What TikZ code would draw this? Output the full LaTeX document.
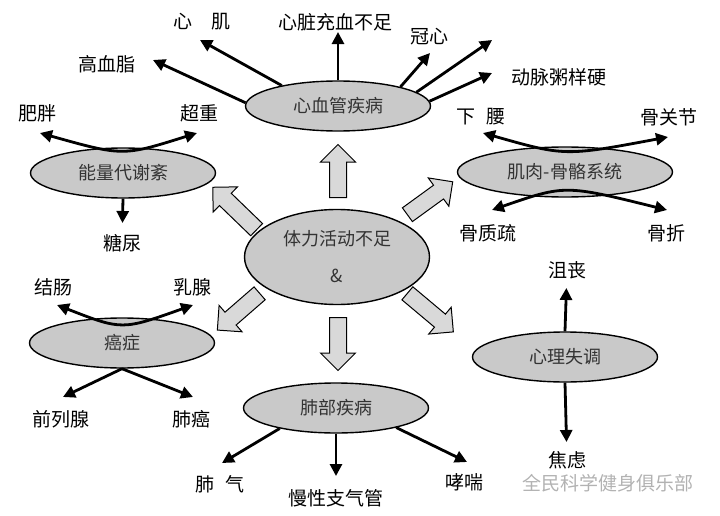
\documentclass[tikz,border=0pt]{standalone}
\usepackage{fontspec}
\setmainfont{Noto Sans CJK SC}
\usetikzlibrary{arrows.meta, positioning, shapes.geometric, shapes.arrows}

\begin{document}
\begin{tikzpicture}[x=1pt, y=-1pt,
    bubble/.style={ellipse, draw=black, line width=1.4pt, fill=gray!42, minimum width=185pt, minimum height=50pt, inner sep=0pt, text=black!80, font=\fontsize{18}{22}\selectfont},
    lbl/.style={font=\fontsize{19}{22}\selectfont, inner sep=1pt},
    lnk/.style={line width=2.8pt, -{Triangle[length=12pt, width=12pt]}},
    twoway/.style={line width=2.8pt, {Triangle[length=12pt, width=12pt]}-{Triangle[length=12pt, width=12pt]}},
    blockarr/.style={single arrow, draw=black, line width=1pt, fill=gray!30, inner xsep=0pt, inner ysep=8pt, single arrow head extend=9pt, single arrow tip angle=90, anchor=tail}]
    \useasboundingbox (0,0) rectangle (720,516);

    % Centre
    \node[bubble, minimum height=95pt, align=center, font=\fontsize{18}{37}\selectfont] (tl) at (337,257) {体力活动不足\\\&};

    % Diseases
    \node[bubble] (cv) at (338,106) {心血管疾病};
    \node[bubble] (ny) at (123,173) {能量代谢紊};
    \node[bubble, minimum width=215pt] (jr) at (565,172) {肌肉-骨骼系统};
    \node[bubble] (az) at (122,343) {癌症};
    \node[bubble] (fb) at (336,408) {肺部疾病};
    \node[bubble] (xl) at (565,357) {心理失调};

    % Block arrows from the centre
    \node[blockarr, minimum height=53pt, rotate=90] (bU) at (338,198) {};
    \node[blockarr, minimum height=61pt, rotate=136] (bUL) at (257,230) {};
    \node[blockarr, minimum height=56pt, rotate=36] (bUR) at (407,215) {};
    \node[blockarr, minimum height=56pt, rotate=221] (bDL) at (260,293) {};
    \node[blockarr, minimum height=53pt, rotate=-90] (bD) at (338,317) {};
    \node[blockarr, minimum height=60pt, rotate=-40] (bDR) at (407,293) {};

    % Labels
    \node[lbl] (xj) at (202,22) {心\hspace{1em}肌};
    \node[lbl] (gxz) at (107,64) {高血脂};
    \node[lbl] (xz) at (335,22) {心脏充血不足};
    \node[lbl] (gx) at (429,37) {冠心};
    \node[lbl] (dm) at (559,77) {动脉粥样硬};
    \node[lbl] (fp) at (38,113) {肥胖};
    \node[lbl] (cz) at (199,113) {超重};
    \node[lbl] (tn) at (122,243) {糖尿};
    \node[lbl] (xy) at (481,117) {下\hspace{0.6em}腰};
    \node[lbl] (gj) at (669,117) {骨关节};
    \node[lbl] (gz) at (488,233) {骨质疏};
    \node[lbl] (gzh) at (666,233) {骨折};
    \node[lbl] (jc) at (53,287) {结肠};
    \node[lbl] (rx) at (192,287) {乳腺};
    \node[lbl] (ql) at (61,419) {前列腺};
    \node[lbl] (fa) at (191,419) {肺癌};
    \node[lbl] (fq) at (220,484) {肺\hspace{0.6em}气};
    \node[lbl] (mx) at (336,498) {慢性支气管};
    \node[lbl] (xc) at (464,482) {哮喘};
    \node[lbl] (js) at (567,270) {沮丧};
    \node[lbl] (jl) at (567,460) {焦虑};
    \node[lbl, text=gray!60] (wm) at (608,483) {全民科学健身俱乐部};

    % Free ends
    \coordinate (xjTip) at (200,40);
    \coordinate (gxzTip) at (153,60);
    \coordinate (gxTip) at (430,53);
    \coordinate (xTip) at (492,40);
    \coordinate (dmTip) at (492,73);
    \coordinate (fpTip) at (40,133);
    \coordinate (czTip) at (197,133);
    \coordinate (xyTip) at (483,133);
    \coordinate (gjTip) at (668,137);
    \coordinate (gzTip) at (492,210);
    \coordinate (gzhTip) at (667,210);
    \coordinate (jcTip) at (57,305);
    \coordinate (rxTip) at (193,305);
    \coordinate (qlTip) at (63,397);
    \coordinate (faTip) at (193,397);
    \coordinate (fqTip) at (222,463);
    \coordinate (xcTip) at (467,462);

    % Heart
    \draw[lnk] (cv.160) -- (xjTip);
    \draw[lnk] (cv.178) -- (gxzTip);
    \draw[lnk] (cv.north) -- (cv.north |- xz.south);
    \draw[lnk] (cv.17) -- (gxTip);
    \draw[lnk] (cv.10) -- (xTip);
    \draw[lnk] (cv.3) -- (dmTip);

    % Energy
    \draw[twoway] (fpTip) .. controls ([yshift=-9pt]ny.north) .. (czTip);
    \draw[lnk, shorten >=10pt] (ny.south) -- (tn);

    % Muscle and bone
    \draw[twoway] (xyTip) .. controls ([yshift=-10pt]jr.north) .. (gjTip);
    \draw[twoway] (gzTip) .. controls ([yshift=13pt]jr.south) .. (gzhTip);

    % Cancer
    \draw[twoway] (jcTip) .. controls ([yshift=-13pt]az.north) .. (rxTip);
    \draw[lnk] (az.south) -- (qlTip);
    \draw[lnk] (az.south) -- (faTip);

    % Lung
    \draw[lnk] (fb.200) -- (fqTip);
    \draw[lnk, shorten >=12pt] (fb.south) -- (mx);
    \draw[lnk] (fb.-18) -- (xcTip);

    % Mind
    \draw[lnk, shorten >=8pt] (xl.north) -- (js);
    \draw[lnk, shorten >=8pt] (xl.south) -- (jl);
\end{tikzpicture}
\end{document}
